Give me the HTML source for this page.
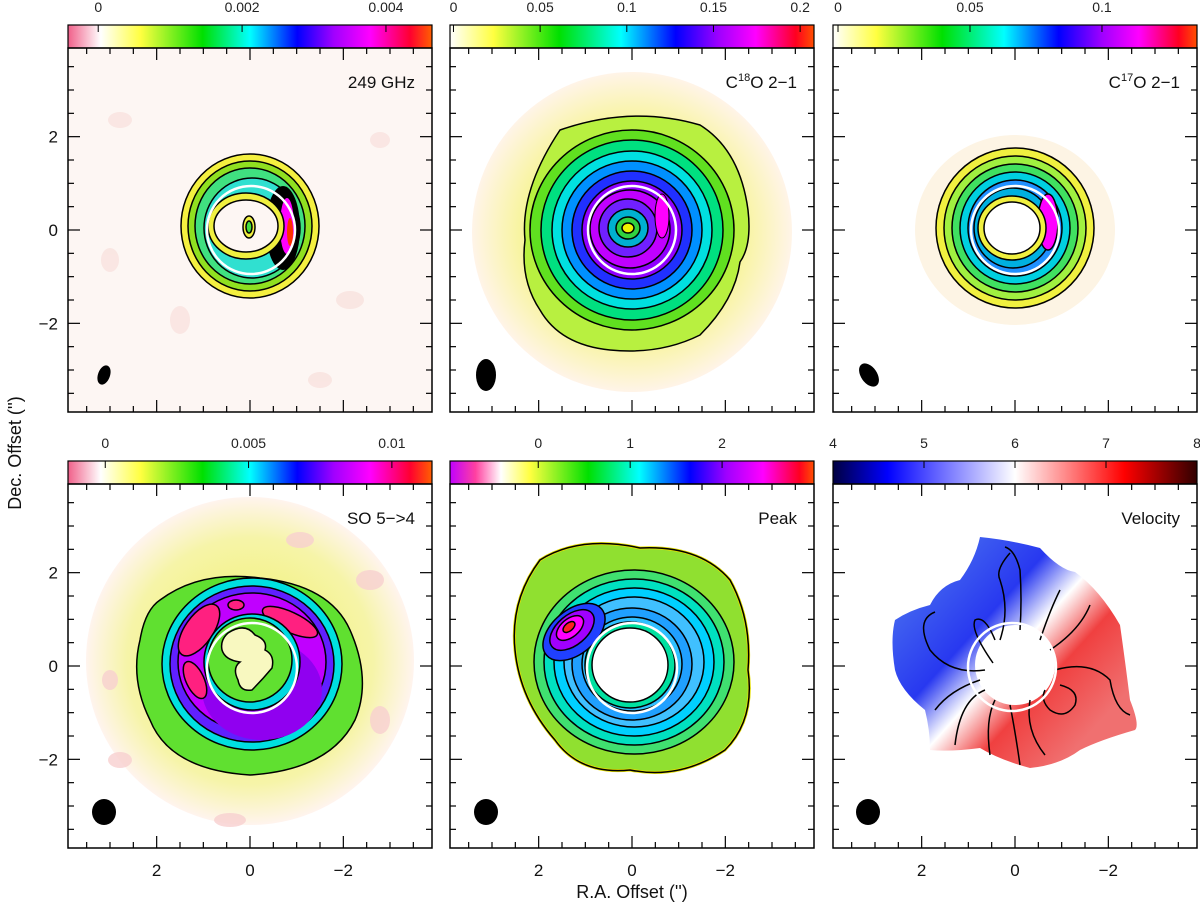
<!DOCTYPE html>
<html><head><meta charset="utf-8">
<style>
html,body{margin:0;padding:0;background:#fff;}
svg{display:block;font-family:"Liberation Sans",sans-serif;}
</style></head>
<body>
<svg id="fig" width="1200" height="906" viewBox="0 0 1200 906" xmlns="http://www.w3.org/2000/svg">
<defs>
<linearGradient id="cb1" x1="0" x2="1" y1="0" y2="0">
<stop offset="0" stop-color="#f0608a"/><stop offset="0.09" stop-color="#ffffff"/><stop offset="0.2" stop-color="#ffff40"/><stop offset="0.37" stop-color="#00e000"/><stop offset="0.5" stop-color="#00ffff"/><stop offset="0.63" stop-color="#0000ff"/><stop offset="0.73" stop-color="#a000ff"/><stop offset="0.83" stop-color="#ff00ff"/><stop offset="0.94" stop-color="#ff0030"/><stop offset="1" stop-color="#ff6000"/></linearGradient>
<linearGradient id="cb2" x1="0" x2="1" y1="0" y2="0">
<stop offset="0" stop-color="#ffffff"/><stop offset="0.12" stop-color="#ffff40"/><stop offset="0.3" stop-color="#00e000"/><stop offset="0.47" stop-color="#00ffff"/><stop offset="0.62" stop-color="#0000ff"/><stop offset="0.74" stop-color="#a000ff"/><stop offset="0.84" stop-color="#ff00ff"/><stop offset="0.95" stop-color="#ff0020"/><stop offset="1" stop-color="#ff5000"/></linearGradient>
<linearGradient id="cb5" x1="0" x2="1" y1="0" y2="0">
<stop offset="0" stop-color="#c000ff"/><stop offset="0.07" stop-color="#ff40a0"/><stop offset="0.14" stop-color="#ffffff"/><stop offset="0.22" stop-color="#ffff40"/><stop offset="0.38" stop-color="#00e000"/><stop offset="0.52" stop-color="#00ffff"/><stop offset="0.66" stop-color="#0000ff"/><stop offset="0.76" stop-color="#a000ff"/><stop offset="0.86" stop-color="#ff00ff"/><stop offset="0.96" stop-color="#ff0020"/><stop offset="1" stop-color="#ff5000"/></linearGradient>
<linearGradient id="cb6" x1="0" x2="1" y1="0" y2="0">
<stop offset="0" stop-color="#000040"/><stop offset="0.15" stop-color="#0000ff"/><stop offset="0.5" stop-color="#ffffff"/><stop offset="0.8" stop-color="#ff0000"/><stop offset="1" stop-color="#300000"/></linearGradient>
<radialGradient id="halo2"><stop offset="0" stop-color="#f4f060"/><stop offset="0.7" stop-color="#f8f4a0"/><stop offset="1" stop-color="#fff4e8"/></radialGradient>
<radialGradient id="halo4"><stop offset="0" stop-color="#f0f060"/><stop offset="0.75" stop-color="#f6f4a8"/><stop offset="1" stop-color="#fff4ee"/></radialGradient>
<linearGradient id="vel" x1="0.15" y1="0.2" x2="0.85" y2="0.8">
<stop offset="0" stop-color="#4060f0"/><stop offset="0.3" stop-color="#2838f0"/><stop offset="0.5" stop-color="#ffffff"/><stop offset="0.7" stop-color="#f04040"/><stop offset="1" stop-color="#f07070"/></linearGradient>
<clipPath id="c1"><rect x="68" y="48" width="364" height="364"/></clipPath>
<clipPath id="c2"><rect x="450" y="48" width="364" height="364"/></clipPath>
<clipPath id="c3"><rect x="833" y="48" width="364" height="364"/></clipPath>
<clipPath id="c4"><rect x="68" y="484" width="364" height="364"/></clipPath>
<clipPath id="c5"><rect x="450" y="484" width="364" height="364"/></clipPath>
<clipPath id="c6"><rect x="833" y="484" width="364" height="364"/></clipPath>
</defs>

<!-- Panel 1: 249 GHz -->
<g clip-path="url(#c1)">
<rect x="68" y="48" width="364" height="364" fill="#fdf6f3"/>
<g fill="#f8e0dc" opacity="0.7"><ellipse cx="120" cy="120" rx="12" ry="8"/><ellipse cx="180" cy="320" rx="10" ry="14"/><ellipse cx="350" cy="300" rx="14" ry="9"/><ellipse cx="380" cy="140" rx="10" ry="8"/><ellipse cx="110" cy="260" rx="9" ry="12"/><ellipse cx="320" cy="380" rx="12" ry="8"/></g>
<g stroke="#000" stroke-width="1.5">
<ellipse cx="250" cy="226" rx="69" ry="72" fill="#f4f040"/>
<ellipse cx="250" cy="226" rx="62" ry="65" fill="#90e020"/>
<ellipse cx="250" cy="226" rx="55" ry="58" fill="#40e080"/>
<ellipse cx="252" cy="228" rx="48" ry="50" fill="#30e0d0"/>
</g>
<ellipse cx="283" cy="228" rx="17" ry="42" fill="#000"/>
<ellipse cx="287" cy="226" rx="7" ry="28" fill="#ff00ff"/>
<ellipse cx="290" cy="232" rx="3" ry="14" fill="#ff3000"/>
<g stroke="#000" stroke-width="1.5">
<ellipse cx="246" cy="226" rx="38" ry="33" fill="#f0f040"/>
<ellipse cx="246" cy="226" rx="32" ry="26" fill="#fdf6f3"/>
<ellipse cx="249" cy="227" rx="6" ry="11" fill="#f0f040"/>
<ellipse cx="249" cy="227" rx="3" ry="6" fill="#40e040"/>
</g>
<circle cx="251" cy="230" r="44" fill="none" stroke="#fff" stroke-width="2.5"/>
<ellipse cx="104" cy="375" rx="6" ry="10" transform="rotate(20 104 375)" fill="#000"/>
</g>

<!-- Panel 2: C18O -->
<g clip-path="url(#c2)">
<rect x="450" y="48" width="364" height="364" fill="#fff"/>
<circle cx="632" cy="232" r="160" fill="url(#halo2)"/>
<g stroke="#000" stroke-width="1.5">
<path d="M560 130 Q632 105 700 125 Q740 150 748 210 Q752 245 740 262 Q735 300 700 335 Q660 355 610 350 Q560 345 540 310 Q520 280 525 240 Q520 190 560 130Z" fill="#b8f040"/>
<ellipse cx="632" cy="230" rx="102" ry="100" fill="#60e020"/>
<ellipse cx="632" cy="230" rx="91" ry="90" fill="#00e080"/>
<ellipse cx="632" cy="230" rx="80" ry="79" fill="#00e0e0"/>
<ellipse cx="632" cy="230" rx="70" ry="69" fill="#0090ff"/>
<ellipse cx="632" cy="230" rx="60" ry="59" fill="#2030ff"/>
<ellipse cx="632" cy="230" rx="50" ry="49" fill="#9000ff"/>
<ellipse cx="630" cy="229" rx="40" ry="39" fill="#c000ff"/>
<ellipse cx="628" cy="228" rx="29" ry="29" fill="#7020ff"/>
<ellipse cx="628" cy="228" rx="20" ry="19" fill="#00b0d0"/>
<ellipse cx="628" cy="228" rx="12" ry="11" fill="#30d040"/>
<ellipse cx="628" cy="228" rx="6" ry="5" fill="#f0f000"/>
</g>
<ellipse cx="662" cy="216" rx="7" ry="22" fill="#ff00ff" stroke="#000"/>
<circle cx="632" cy="230" r="44" fill="none" stroke="#fff" stroke-width="2.5"/>
<ellipse cx="486" cy="375" rx="10" ry="16" fill="#000"/>
</g>

<!-- Panel 3: C17O -->
<g clip-path="url(#c3)">
<rect x="833" y="48" width="364" height="364" fill="#fff"/>
<ellipse cx="1015" cy="230" rx="100" ry="95" fill="#fdf4e4"/>
<g stroke="#000" stroke-width="1.5">
<ellipse cx="1015" cy="228" rx="79" ry="80" fill="#f0f040"/>
<ellipse cx="1015" cy="228" rx="71" ry="72" fill="#a0f040"/>
<ellipse cx="1015" cy="228" rx="63" ry="64" fill="#40e060"/>
<ellipse cx="1015" cy="228" rx="55" ry="56" fill="#00d0e0"/>
<ellipse cx="1015" cy="228" rx="47" ry="48" fill="#2090ff"/>
<ellipse cx="1013" cy="228" rx="39" ry="40" fill="#00b0e0"/>
</g>
<ellipse cx="1048" cy="222" rx="10" ry="28" fill="#ff00ff" stroke="#000" stroke-width="1.5"/>
<g stroke="#000" stroke-width="1.5">
<ellipse cx="1012" cy="228" rx="34" ry="32" fill="#f0f040"/>
<ellipse cx="1012" cy="228" rx="28" ry="26" fill="#fff"/>
</g>
<circle cx="1015" cy="230" r="44" fill="none" stroke="#fff" stroke-width="2.5"/>
<ellipse cx="869" cy="375" rx="8" ry="13" transform="rotate(-35 869 375)" fill="#000"/>
</g>

<!-- Panel 4: SO -->
<g clip-path="url(#c4)">
<rect x="68" y="484" width="364" height="364" fill="#fff"/>
<circle cx="250" cy="661" r="164" fill="url(#halo4)"/>
<g fill="#f8d0d0" opacity="0.8"><ellipse cx="120" cy="760" rx="12" ry="8"/><ellipse cx="370" cy="580" rx="14" ry="10"/><ellipse cx="380" cy="720" rx="10" ry="14"/><ellipse cx="300" cy="540" rx="14" ry="8"/><ellipse cx="230" cy="820" rx="16" ry="7"/><ellipse cx="110" cy="680" rx="8" ry="10"/></g>
<g stroke="#000" stroke-width="1.5">
<path d="M160 600 Q200 570 260 578 Q330 585 350 630 Q372 680 355 720 Q330 770 250 775 Q170 770 150 720 Q130 680 140 640 Q145 610 160 600Z" fill="#60e030"/>
<ellipse cx="252" cy="664" rx="90" ry="86" fill="#00e0e0"/>
<ellipse cx="252" cy="664" rx="82" ry="78" fill="#6020ff"/>
<ellipse cx="252" cy="662" rx="74" ry="69" fill="#c000ff"/>
</g>
<ellipse cx="262" cy="690" rx="60" ry="50" fill="#9000f0"/>
<g fill="#ff2080" stroke="#000" stroke-width="1.5">
<ellipse cx="199" cy="630" rx="14" ry="30" transform="rotate(35 199 630)"/>
<ellipse cx="290" cy="622" rx="30" ry="10" transform="rotate(25 290 622)"/>
<ellipse cx="195" cy="680" rx="9" ry="20" transform="rotate(-25 195 680)"/>
<ellipse cx="236" cy="605" rx="8" ry="5"/>
</g>
<g stroke="#000" stroke-width="1.5">
<ellipse cx="252" cy="662" rx="48" ry="48" fill="#00d8e0"/>
<ellipse cx="250" cy="660" rx="42" ry="42" fill="#60e030"/>
<path d="M228 633 Q245 622 255 635 Q268 640 265 650 Q275 655 272 668 Q262 680 252 690 Q240 692 238 680 Q232 668 240 662 Q225 660 222 650 Q220 640 228 633Z" fill="#f8f8c0"/>
</g>
<circle cx="252" cy="668" r="45" fill="none" stroke="#fff" stroke-width="2.5"/>
<ellipse cx="104" cy="812" rx="12" ry="13" fill="#000"/>
</g>

<!-- Panel 5: Peak -->
<g clip-path="url(#c5)">
<rect x="450" y="484" width="364" height="364" fill="#fff"/>
<g stroke="#000" stroke-width="1.5">
<path d="M540 560 Q580 535 640 548 Q700 545 730 580 Q752 620 748 670 Q755 720 725 750 Q680 780 630 770 Q580 775 555 740 Q520 700 515 650 Q510 600 540 560Z" fill="#90e030" stroke="#e8e000" stroke-width="3"/>
<path d="M540 560 Q580 535 640 548 Q700 545 730 580 Q752 620 748 670 Q755 720 725 750 Q680 780 630 770 Q580 775 555 740 Q520 700 515 650 Q510 600 540 560Z" fill="none"/>
<ellipse cx="634" cy="662" rx="100" ry="92" fill="#40e070"/>
<ellipse cx="634" cy="662" rx="90" ry="83" fill="#00e0c0"/>
<ellipse cx="634" cy="662" rx="80" ry="74" fill="#00d0ff"/>
<ellipse cx="634" cy="662" rx="70" ry="65" fill="#40c0ff"/>
<ellipse cx="632" cy="664" rx="60" ry="56" fill="#20a0ff"/>
<ellipse cx="632" cy="664" rx="50" ry="47" fill="#30c0ff"/>
<ellipse cx="630" cy="665" rx="45" ry="43" fill="#00e0a0"/>
<ellipse cx="574" cy="632" rx="36" ry="22" transform="rotate(-40 574 632)" fill="#2040ff"/>
<ellipse cx="572" cy="630" rx="26" ry="15" transform="rotate(-40 572 630)" fill="#a000ff"/>
<ellipse cx="570" cy="628" rx="16" ry="9" transform="rotate(-40 570 628)" fill="#ff00ff"/>
<ellipse cx="569" cy="627" rx="7" ry="4" transform="rotate(-40 569 627)" fill="#ff2020"/>
<ellipse cx="630" cy="665" rx="38" ry="37" fill="#fff"/>
</g>
<circle cx="632" cy="668" r="45" fill="none" stroke="#fff" stroke-width="2.5"/>
<ellipse cx="486" cy="812" rx="12" ry="13" fill="#000"/>
</g>

<!-- Panel 6: Velocity -->
<g clip-path="url(#c6)">
<rect x="833" y="484" width="364" height="364" fill="#fff"/>
<path d="M980 537 Q1010 540 1040 548 Q1060 570 1075 572 Q1100 590 1120 625 Q1125 660 1130 700 Q1140 725 1135 730 Q1100 740 1080 750 Q1060 765 1030 768 Q1000 760 980 748 Q950 752 930 750 Q930 730 925 710 Q900 690 895 670 Q890 640 895 620 Q910 610 930 605 Q940 585 960 580 Q975 560 980 537Z" fill="url(#vel)"/>
<circle cx="1015" cy="665" r="40" fill="#fff"/>
<g fill="none" stroke="#000" stroke-width="1.5">
<path d="M985 670 Q950 675 930 650 Q915 620 935 612"/>
<path d="M993 663 Q970 630 975 620 Q985 615 995 640"/>
<path d="M1000 640 Q1010 610 1000 580 Q995 570 1010 553"/>
<path d="M1020 630 Q1022 600 1020 570 Q1015 550 1005 547"/>
<path d="M1040 640 Q1050 610 1060 590"/>
<path d="M1050 650 Q1080 630 1090 605"/>
<path d="M1055 670 Q1090 660 1110 680 Q1115 710 1130 715"/>
<path d="M1060 685 Q1080 690 1075 705 Q1065 720 1050 710 Q1040 700 1045 690"/>
<path d="M1030 700 Q1025 730 1045 755"/>
<path d="M1010 705 Q1015 730 1020 765"/>
<path d="M995 700 Q985 720 990 755"/>
<path d="M985 690 Q960 700 955 745"/>
<path d="M980 680 Q950 690 935 710"/>
</g>
<circle cx="1012" cy="667" r="44" fill="none" stroke="#fff" stroke-width="2.5"/>
<ellipse cx="868" cy="812" rx="12" ry="13" fill="#000"/>
</g>

<g id="frames"></g>
<g id="labels" font-size="17" fill="#111">
<text x="415" y="88" text-anchor="end">249 GHz</text>
<text x="797" y="88" text-anchor="end">C<tspan font-size="11" dy="-7">18</tspan><tspan dy="7">O 2−1</tspan></text>
<text x="1180" y="88" text-anchor="end">C<tspan font-size="11" dy="-7">17</tspan><tspan dy="7">O 2−1</tspan></text>
<text x="415" y="524" text-anchor="end">SO 5−&gt;4</text>
<text x="797" y="524" text-anchor="end">Peak</text>
<text x="1180" y="524" text-anchor="end">Velocity</text>
<text x="632" y="898" text-anchor="middle" font-size="18">R.A. Offset ('')</text>
<text transform="translate(21 453) rotate(-90)" text-anchor="middle" font-size="18">Dec. Offset ('')</text>
</g>
</svg>
<script>
// Axis data
const xTickValues = [2, 0, -2];
const yTickValues = [2, 0, -2];
const cb1Ticks = [0, 0.002, 0.004];
const cb2Ticks = [0, 0.05, 0.1, 0.15, 0.2];
const cb3Ticks = [0, 0.05, 0.1];
const cb4Ticks = [0, 0.005, 0.01];
const cb5Ticks = [0, 1, 2];
const cb6Ticks = [4, 5, 6, 7, 8];
const cb1Range = [-0.00042, 0.00464];
const cb2Range = [-0.002, 0.208];
const cb3Range = [-0.0019, 0.136];
const cb4Range = [-0.0013, 0.0114];
const cb5Range = [-0.96, 3.0];
const cb6Range = [4, 8];

const NS = "http://www.w3.org/2000/svg";
const svg = document.getElementById('fig');
const frames = document.getElementById('frames');
const S = 364, LIM = 3.9;
const cols = [68, 450, 833];
const rows = [48, 484];
function ax(x0, v) { return x0 + S / 2 - v * (S / (2 * LIM)); }
function ay(y0, v) { return y0 + S / 2 - v * (S / (2 * LIM)); }
function mk(tag, attrs, parent) {
  const e = document.createElementNS(NS, tag);
  for (const k in attrs) e.setAttribute(k, attrs[k]);
  (parent || frames).appendChild(e);
  return e;
}
const cbs = [
  [cb1Ticks, cb1Range, 'cb1'], [cb2Ticks, cb2Range, 'cb2'], [cb3Ticks, cb3Range, 'cb2'],
  [cb4Ticks, cb4Range, 'cb1'], [cb5Ticks, cb5Range, 'cb5'], [cb6Ticks, cb6Range, 'cb6']
];
for (let r = 0; r < 2; r++) {
  for (let c = 0; c < 3; c++) {
    const x0 = cols[c], y0 = rows[r];
    const idx = r * 3 + c;
    const [ticks, range, grad] = cbs[idx];
    const cb = mk('rect', {x: x0, y: y0 - 23, width: S, height: 23, fill: 'url(#' + grad + ')', stroke: '#000', 'stroke-width': 1.2});
    
    
    const cx = v => x0 + (v - range[0]) / (range[1] - range[0]) * S;
    ticks.forEach(v => {
      const t = mk('line', {x1: cx(v), x2: cx(v), y1: y0 - 23, y2: y0 - 16, stroke: '#000', 'stroke-width': 1});
      
      
      const lb = mk('text', {x: cx(v), y: y0 - 36, 'text-anchor': 'middle', 'font-size': 14, fill: '#222'});
      lb.textContent = String(v);
      
      
    });
    const fr = mk('rect', {x: x0, y: y0, width: S, height: S, fill: 'none', stroke: '#000', 'stroke-width': 1.5});
    
    
    for (let v = -3.5; v <= 3.51; v += 0.5) {
      const major = Math.abs(v % 2) < 0.01;
      const L = major ? 12 : 6;
      const X = ax(x0, v), Y = ay(y0, v);
      [[X, y0, X, y0 + L], [X, y0 + S, X, y0 + S - L], [x0, Y, x0 + L, Y], [x0 + S, Y, x0 + S - L, Y]].forEach(p => {
        const t = mk('line', {x1: p[0], y1: p[1], x2: p[2], y2: p[3], stroke: '#000', 'stroke-width': 1.2});
        
        
      });
    }
    if (c === 0) {
      yTickValues.forEach(v => {
        const t = mk('text', {x: x0 - 10, y: ay(y0, v) + 6, 'text-anchor': 'end', 'font-size': 17, fill: '#111'});
        t.textContent = v < 0 ? '−' + Math.abs(v) : String(v);
        
        
      });
    }
    if (r === 1) {
      xTickValues.forEach(v => {
        const t = mk('text', {x: ax(x0, v), y: y0 + S + 28, 'text-anchor': 'middle', 'font-size': 17, fill: '#111'});
        t.textContent = v < 0 ? '−' + Math.abs(v) : String(v);
        
        
      });
    }
  }
}
</script>
</body></html>
